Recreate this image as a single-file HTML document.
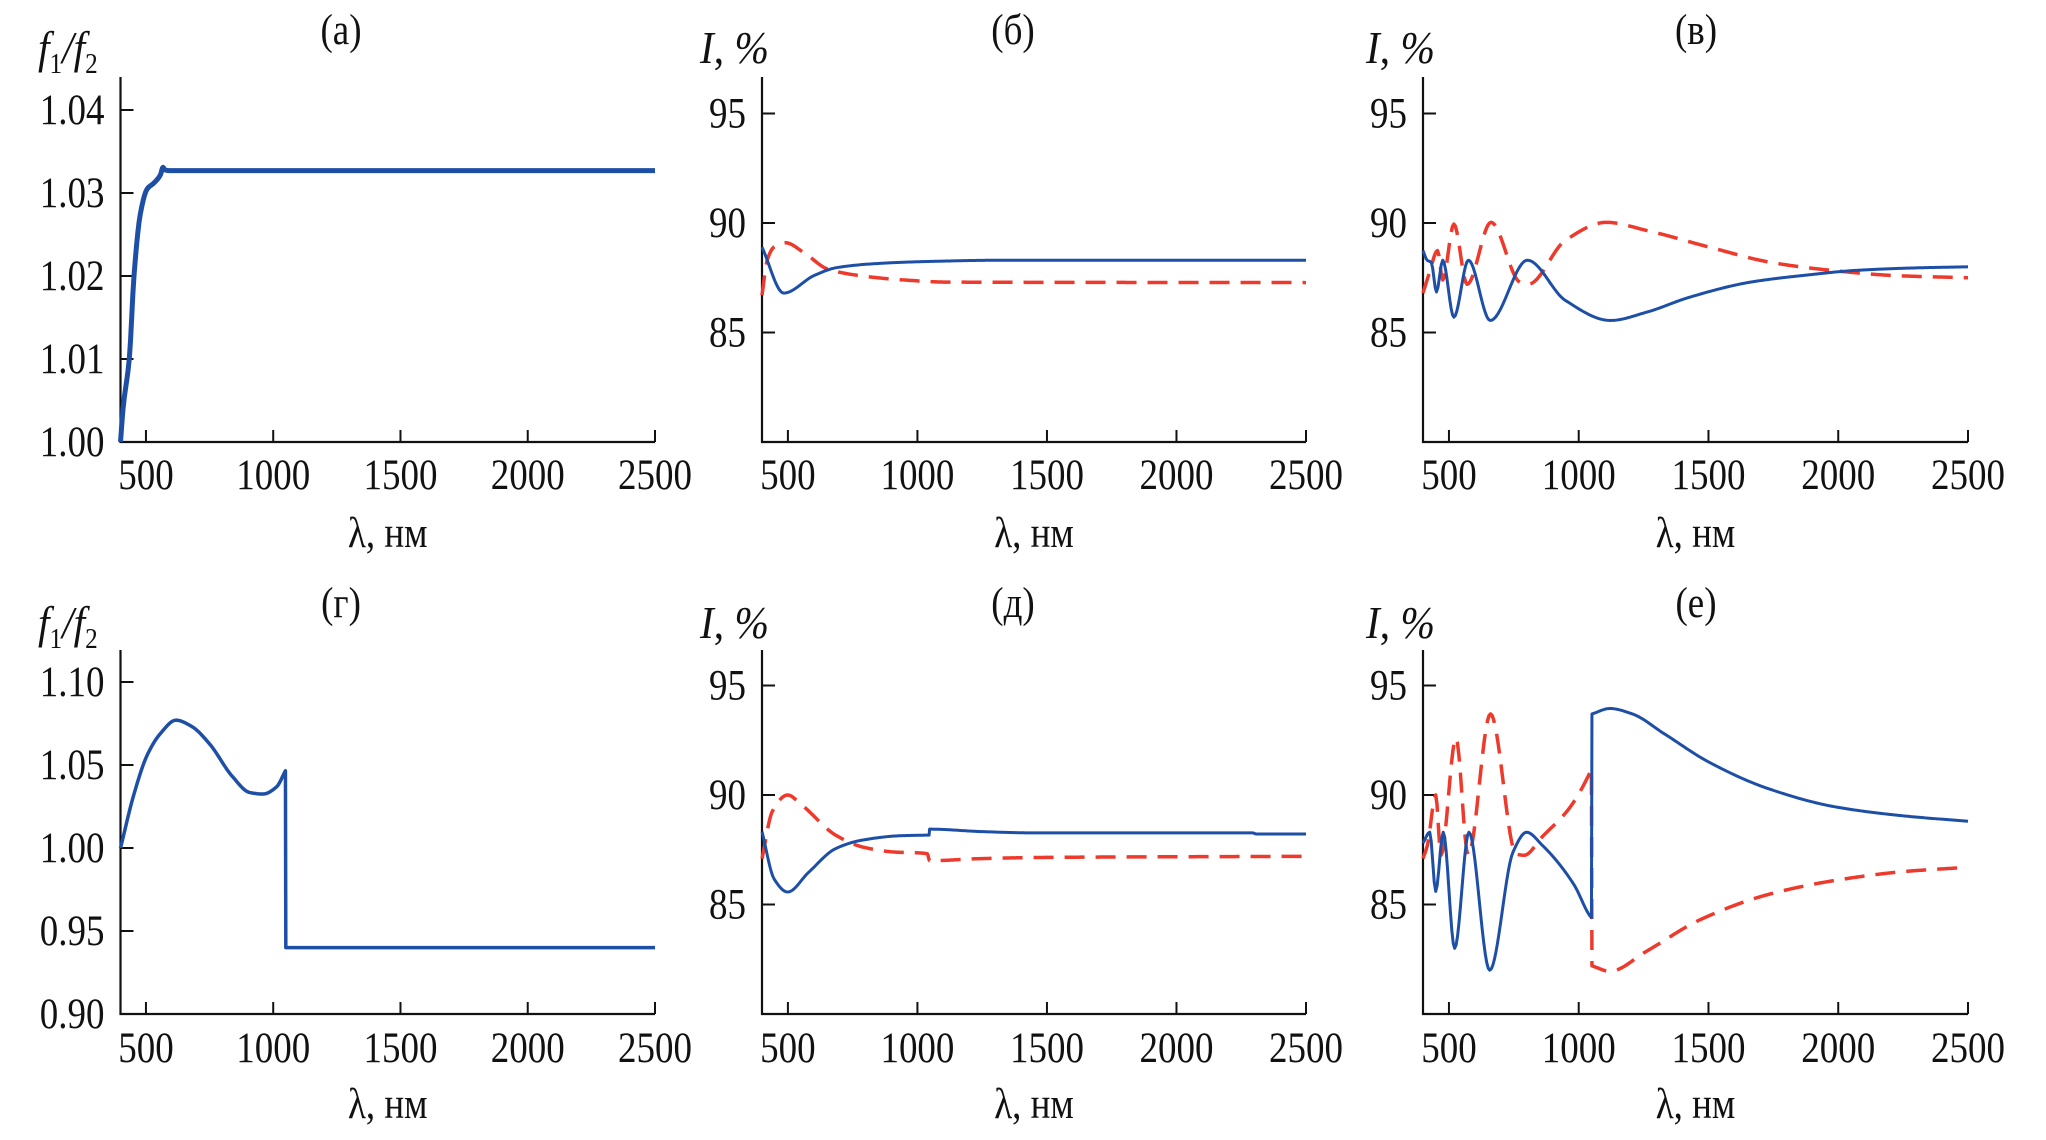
<!DOCTYPE html>
<html><head><meta charset="utf-8">
<style>
html,body{margin:0;padding:0;background:#fff;}
svg{display:block;}
text{font-family:"Liberation Serif","DejaVu Serif",serif;fill:#111;}
</style></head>
<body>
<svg id="fig" width="2046" height="1140" viewBox="0 0 2046 1140" xmlns="http://www.w3.org/2000/svg"></svg>
<script>
// ---- data ----
const xTicks = [500, 1000, 1500, 2000, 2500];
const fTicksA = [1.00, 1.01, 1.02, 1.03, 1.04];
const fTicksG = [0.90, 0.95, 1.00, 1.05, 1.10];
const iTicks = [85, 90, 95];

const aLam = [400, 410, 435, 453, 478, 505, 531, 557, 567, 574, 590, 2500];
const aVal = [1.000, 1.004, 1.0102, 1.020, 1.0275, 1.0305, 1.0312, 1.0322, 1.0331, 1.0328, 1.0327, 1.0327];

const gLam = [400, 453, 505, 557, 618, 679, 750, 838, 908, 960, 1013, 1048, 1049.5, 1051, 2500];
const gVal = [1.000, 1.0325, 1.056, 1.069, 1.077, 1.0733, 1.0627, 1.0434, 1.0334, 1.0325, 1.0368, 1.0465, 0.940, 0.940, 0.940];

const bLam = [400, 484, 601, 687, 860, 1032, 1324, 2500];
const bBlue = [88.9, 86.8, 87.6, 87.96, 88.16, 88.24, 88.3, 88.3];
const bRedLam = [400, 420, 446, 490, 567, 653, 808, 946, 1118, 2500];
const bRed = [86.7, 88.3, 88.9, 89.1, 88.6, 87.9, 87.55, 87.4, 87.3, 87.28];

const vLam = [400, 416, 432, 452, 476, 519, 575, 659, 802, 948, 1122, 1265, 1424, 1662, 1900, 2059, 2297, 2500];
const vBlue = [88.74, 88.3, 88.2, 86.85, 88.3, 85.7, 88.3, 85.55, 88.3, 86.47, 85.55, 85.94, 86.6, 87.3, 87.65, 87.83, 87.95, 88.0];
const vRedLam = [400, 424, 456, 476, 519, 570, 662, 773, 805, 948, 1106, 1265, 1503, 1741, 1979, 2217, 2500];
const vRed = [86.8, 87.7, 88.74, 87.4, 89.95, 87.2, 90.03, 87.3, 87.2, 89.2, 90.03, 89.65, 88.9, 88.2, 87.83, 87.6, 87.5];

const dLam = [400, 447, 499, 580, 684, 787, 935, 1045, 1047, 1053, 1245, 1452, 2294, 2308, 2500];
const dBlue = [88.33, 86.16, 85.57, 86.47, 87.55, 87.94, 88.14, 88.17, 88.44, 88.44, 88.33, 88.27, 88.27, 88.22, 88.22];
const dRedLam = [400, 440, 499, 551, 684, 787, 905, 1038, 1047, 1053, 1230, 1496, 2500];
const dRed = [87.09, 89.26, 90.0, 89.57, 88.17, 87.63, 87.4, 87.32, 87.0, 87.0, 87.09, 87.15, 87.2];

const eLam = [400, 426, 449, 478, 522, 577, 657, 747, 799, 860, 982, 1042, 1049, 1051, 1120, 1207, 1329, 1502, 1728, 1988, 2249, 2500];
const eBlue = [87.8, 88.3, 85.6, 88.3, 83.0, 88.3, 82.0, 87.4, 88.3, 87.7, 85.9, 84.5, 84.4, 93.7, 93.95, 93.7, 92.8, 91.5, 90.3, 89.46, 89.05, 88.8];
const eRedLam = [400, 417, 449, 469, 527, 574, 660, 759, 790, 860, 964, 1042, 1049, 1051, 1120, 1259, 1467, 1728, 1988, 2249, 2500];
const eRed = [87.1, 87.7, 90.0, 87.25, 92.6, 87.25, 93.7, 87.3, 87.25, 88.1, 89.4, 91.0, 91.2, 82.2, 81.95, 82.85, 84.3, 85.45, 86.1, 86.5, 86.7];

// ---- layout ----
const svg = document.getElementById('fig');
const NS = 'http://www.w3.org/2000/svg';
const colX0 = [120.5, 762, 1423], colX1 = [655, 1306, 1968];
const rowB = [442, 1014], rowT = [77, 650];
const BLUE = '#1e4fa6', RED = '#ee3a2c';
const FS = 43, SQ = 0.86;

function mk(tag, attrs, parent){
  const e = document.createElementNS(NS, tag);
  for (const k in attrs) e.setAttribute(k, attrs[k]);
  (parent || svg).appendChild(e);
  return e;
}
function txt(s, x, y, size, anchor, parent){
  const t = mk('text', {x:0, y:0, 'font-size':size, 'text-anchor':anchor||'start',
    transform:`translate(${x},${y}) scale(${SQ},1)`}, parent);
  t.textContent = s;
  return t;
}

function makePanel(col, row, yMin, yPerUnit, yTicks, fmt, title, name, fLabel){
  const g = mk('g', {});
  
  
  const x0 = colX0[col], x1 = colX1[col], yb = rowB[row], yt = rowT[row];
  const sx = v => x0 + (v - 400) * (x1 - x0) / 2100;
  const sy = v => yb - (v - yMin) * yPerUnit;
  const axes = mk('path', {d:`M${x0},${yt} L${x0},${yb} L${x1},${yb}`, stroke:'#111', 'stroke-width':2.2, fill:'none'}, g);
  
  
  xTicks.forEach(v => {
    const x = sx(v);
    mk('line', {x1:x, x2:x, y1:yb, y2:yb-12, stroke:'#111', 'stroke-width':2}, g);
    const t = txt(String(v), x, row === 0 ? 489 : 1062, FS, 'middle', g);
    
    
  });
  yTicks.forEach(v => {
    const y = sy(v);
    mk('line', {x1:x0, x2:x0+13, y1:y, y2:y, stroke:'#111', 'stroke-width':2}, g);
    const t = txt(fmt(v), x0 - 16, y + 14, FS, 'end', g);
    
    
  });
  const xl = txt('λ, нм', (x0 + x1) / 2, row === 0 ? 547 : 1118, FS, 'middle', g);
  
  
  const tt = txt(title, [341, 1013, 1696][col], row === 0 ? 44 : 617, FS, 'middle', g);
  
  
  const ly = row === 0 ? 63 : 638;
  let yl;
  if (fLabel){
    yl = mk('text', {x:0, y:0, 'font-size':46, 'font-style':'italic', transform:`translate(38,${ly}) scale(0.9,1)`}, g);
    yl.innerHTML = 'f<tspan font-size="28" font-style="normal" dy="10">1</tspan><tspan dy="-10">/f</tspan><tspan font-size="28" font-style="normal" dy="10">2</tspan>';
  } else {
    yl = mk('text', {x:0, y:0, 'font-size':46, transform:`translate(${col === 1 ? 700 : 1366},${ly}) scale(0.9,1)`}, g);
    yl.innerHTML = '<tspan font-style="italic">I</tspan>, <tspan font-style="italic">%</tspan>';
  }
  
  
  return {g, sx, sy};
}

// monotone cubic (Fritsch-Carlson) interpolation in data space
function curve(p, lam, val, color, width, dashed, nm){
  const n = lam.length;
  const dl = [], sl = [];
  for (let i = 0; i < n - 1; i++){ dl.push(lam[i+1]-lam[i]); sl.push((val[i+1]-val[i])/(lam[i+1]-lam[i])); }
  const m = new Array(n).fill(0);
  m[0] = dl[0] < 3 ? 0 : sl[0]; m[n-1] = dl[n-2] < 3 ? 0 : sl[n-2];
  for (let i = 1; i < n - 1; i++){
    if (dl[i-1] < 3 || dl[i] < 3){ m[i] = dl[i-1] < 3 ? (dl[i] < 3 ? 0 : sl[i]) : sl[i-1]; continue; }
    if (sl[i-1] * sl[i] <= 0){ m[i] = 0; continue; }
    const w1 = 2*dl[i] + dl[i-1], w2 = dl[i] + 2*dl[i-1];
    m[i] = (w1 + w2) / (w1 / sl[i-1] + w2 / sl[i]);
  }
  let d = `M${p.sx(lam[0]).toFixed(2)},${p.sy(val[0]).toFixed(2)}`;
  for (let i = 0; i < n - 1; i++){
    const h = dl[i];
    if (h < 3){ d += ` L${p.sx(lam[i+1]).toFixed(2)},${p.sy(val[i+1]).toFixed(2)}`; continue; }
    const steps = Math.max(4, Math.ceil(h / 6));
    for (let k = 1; k <= steps; k++){
      const t = k / steps, t2 = t*t, t3 = t2*t;
      const v = (2*t3-3*t2+1)*val[i] + (t3-2*t2+t)*h*m[i] + (-2*t3+3*t2)*val[i+1] + (t3-t2)*h*m[i+1];
      d += ` L${p.sx(lam[i] + t*h).toFixed(2)},${p.sy(v).toFixed(2)}`;
    }
  }
  const path = mk('path', {d:d, stroke:color, 'stroke-width':width, fill:'none', 'stroke-linejoin':'round'}, p.g);
  if (dashed) path.setAttribute('stroke-dasharray', '20 11');
  
  
}

const f2 = v => v.toFixed(2), f0 = v => String(v);
const pa = makePanel(0, 0, 1.00, 8300, fTicksA, f2, '(а)', 'a', true);
curve(pa, aLam, aVal, BLUE, 5, false, 'ratio-line');
const pb = makePanel(1, 0, 80, 21.9, iTicks, f0, '(б)', 'b', false);
curve(pb, bRedLam, bRed, RED, 3.5, true, 'red-dashed-line');
curve(pb, bLam, bBlue, BLUE, 3, false, 'blue-line');
const pv = makePanel(2, 0, 80, 21.9, iTicks, f0, '(в)', 'v', false);
curve(pv, vRedLam, vRed, RED, 3.5, true, 'red-dashed-line');
curve(pv, vLam, vBlue, BLUE, 3, false, 'blue-line');
const pg = makePanel(0, 1, 0.90, 1660, fTicksG, f2, '(г)', 'g', true);
curve(pg, gLam, gVal, BLUE, 3.5, false, 'ratio-line');
const pd = makePanel(1, 1, 80, 21.9, iTicks, f0, '(д)', 'd', false);
curve(pd, dRedLam, dRed, RED, 3.5, true, 'red-dashed-line');
curve(pd, dLam, dBlue, BLUE, 3, false, 'blue-line');
const pe = makePanel(2, 1, 80, 21.9, iTicks, f0, '(е)', 'e', false);
curve(pe, eRedLam, eRed, RED, 3.5, true, 'red-dashed-line');
curve(pe, eLam, eBlue, BLUE, 3, false, 'blue-line');
</script>
</body></html>
